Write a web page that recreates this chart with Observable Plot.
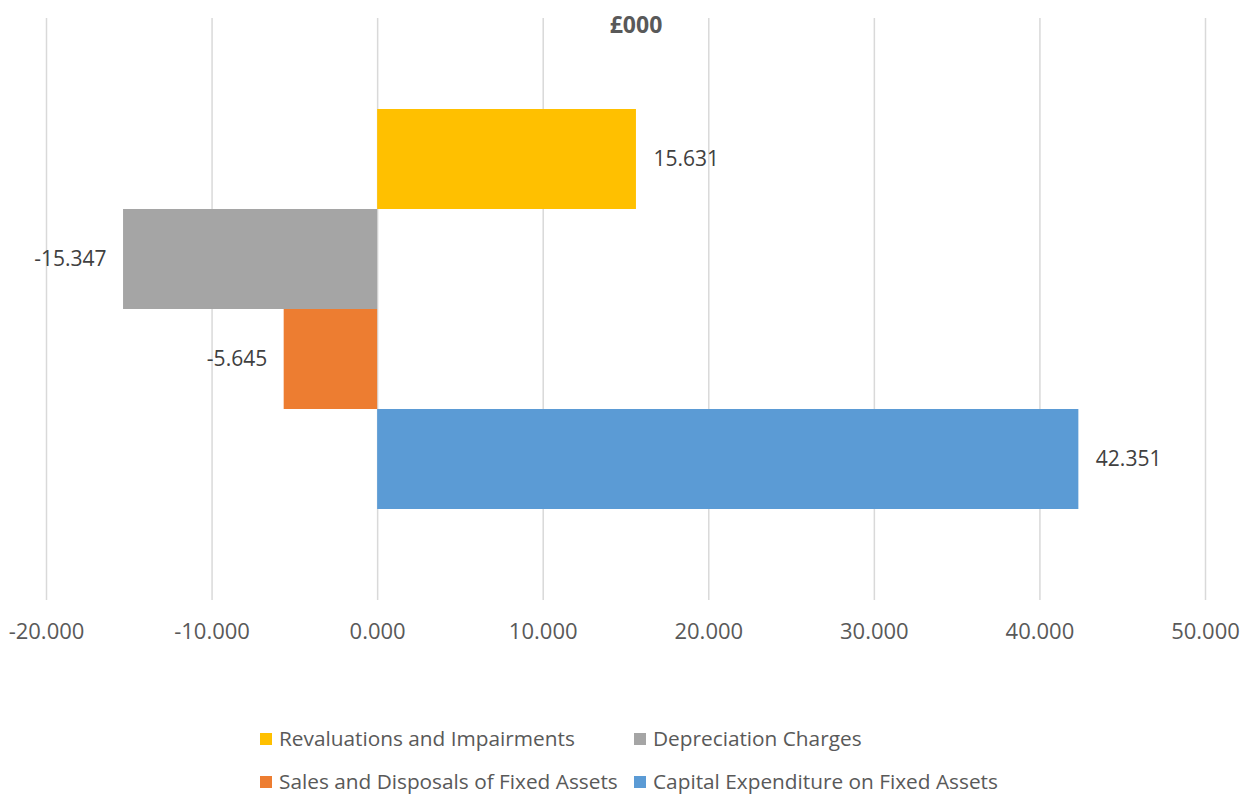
<!DOCTYPE html>
<html>
<head>
<meta charset="utf-8">
<script src="https://cdn.jsdelivr.net/npm/d3@7"></script>
<script src="https://cdn.jsdelivr.net/npm/@observablehq/plot@0.6"></script>
<style>
  html, body { margin: 0; padding: 0; background: #fff; }
  body { position: relative; width: 1242px; height: 797px; overflow: hidden; font-family: "Open Sans", sans-serif; }
  #legend { position: absolute; left: 260px; top: 717px; display: grid; grid-template-columns: 374px auto; grid-auto-rows: 43px; }
  .item { display: flex; align-items: center; font-size: 20.8px; line-height: 1; color: #595959; white-space: nowrap; }
  .sw { width: 12px; height: 12px; margin-right: 7px; flex: none; }
</style>
</head>
<body>
<div id="chart"></div>
<div id="legend"></div>
<script>
const categories = [
  "Revaluations and Impairments",
  "Depreciation Charges",
  "Sales and Disposals of Fixed Assets",
  "Capital Expenditure on Fixed Assets"
];
const values = [15.631, -15.347, -5.645, 42.351];
const colors = ["#FFC000", "#A5A5A5", "#ED7D31", "#5B9BD5"];
const xTicks = [-20, -10, 0, 10, 20, 30, 40, 50];
const title = "£000";

const data = categories.map((c, i) => ({category: c, value: values[i]}));
const fmt = d => d.toFixed(3);

const chart = Plot.plot({
  width: 1242,
  height: 700,
  marginTop: 18,
  marginBottom: 100,
  marginLeft: 46,
  marginRight: 37,
  style: {fontFamily: "Open Sans", background: "#fff"},
  x: {domain: [-20, 50], axis: null},
  y: {domain: categories, axis: null, paddingInner: 0, paddingOuter: 0.91},
  color: {domain: categories, range: colors},
  marks: [
    Plot.gridX(xTicks, {stroke: "#d9d9d9", strokeOpacity: 1, strokeWidth: 1.5}),
    Plot.barX(data, {x: "value", y: "category", fill: "category"}),
    Plot.text(data.filter(d => d.value >= 0), {x: "value", y: "category", text: d => fmt(d.value), textAnchor: "start", dx: 17, fontSize: 21, fill: "#404040"}),
    Plot.text(data.filter(d => d.value < 0), {x: "value", y: "category", text: d => fmt(d.value), textAnchor: "end", dx: -17, fontSize: 21, fill: "#404040"}),
    Plot.axisX(xTicks, {tickSize: 0, tickPadding: 23, tickFormat: fmt, fontSize: 22, fill: "#595959", label: null}),
    Plot.text([title], {frameAnchor: "top", dx: 10, dy: 7, lineAnchor: "middle", fontWeight: "bold", fontSize: 23, fill: "#595959"})
  ]
});
document.getElementById("chart").appendChild(chart);

const legend = document.getElementById("legend");
categories.forEach((c, i) => {
  const item = document.createElement("div");
  item.className = "item";
  const sw = document.createElement("span");
  sw.className = "sw";
  sw.style.background = colors[i];
  item.appendChild(sw);
  item.appendChild(document.createTextNode(c));
  legend.appendChild(item);
});
</script>
</body>
</html>
